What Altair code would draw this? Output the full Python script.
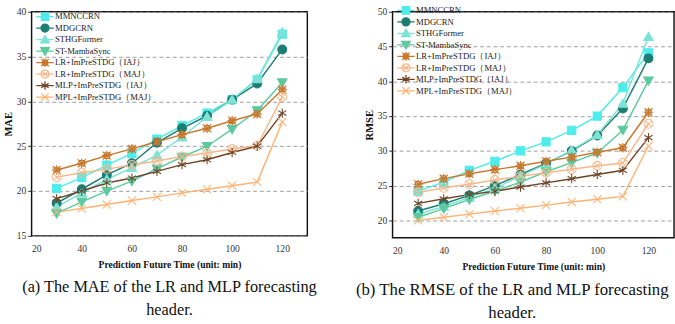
import altair as alt
import pandas as pd

# Forecast horizons (minutes)
minutes = [30, 40, 50, 60, 70, 80, 90, 100, 110, 120]

series_names = [
    "MMNCCRN",
    "MDGCRN",
    "STHGFormer",
    "ST-MambaSync",
    "LR+ImPreSTDG（IAJ）",
    "LR+ImPreSTDG（MAJ）",
    "MLP+ImPreSTDG（IAJ）",
    "MPL+ImPreSTDG（MAJ）",
]

# MAE per model
mae_mmnccrn = [20.3, 21.5, 22.9, 24.2, 25.8, 27.3, 28.7, 30.2, 32.4, 37.5]
mae_mdgcrn = [18.65, 20.2, 21.8, 23.1, 25.4, 27.0, 28.4, 30.2, 32.0, 35.8]
mae_sthgformer = [18.2, 19.8, 21.3, 22.6, 24.0, 26.0, 28.3, 30.2, 32.5, 37.7]
mae_stmambasync = [17.5, 18.8, 20.0, 21.1, 22.5, 23.8, 25.0, 26.9, 29.0, 32.1]
mae_lr_iaj = [22.35, 23.1, 23.95, 24.7, 25.5, 26.3, 27.0, 27.85, 28.6, 31.3]
mae_lr_maj = [21.55, 22.05, 22.45, 22.9, 23.35, 23.85, 24.25, 24.7, 25.05, 30.5]
mae_mlp_iaj = [19.15, 20.0, 20.9, 21.45, 22.2, 22.95, 23.5, 24.3, 25.0, 28.7]
mae_mpl_maj = [17.65, 18.05, 18.5, 18.95, 19.35, 19.8, 20.2, 20.6, 21.0, 27.7]

# RMSE per model
rmse_mmnccrn = [24.2, 25.5, 27.2, 28.5, 30.0, 31.3, 32.95, 35.0, 39.1, 44.1]
rmse_mdgcrn = [21.35, 22.4, 23.6, 25.0, 26.6, 28.2, 30.0, 32.2, 36.1, 43.3]
rmse_sthgformer = [20.9, 22.0, 23.3, 24.6, 26.4, 28.1, 30.1, 32.3, 36.8, 46.4]
rmse_stmambasync = [20.45, 21.7, 23.0, 24.2, 25.5, 27.0, 28.3, 29.7, 33.0, 40.1]
rmse_lr_iaj = [25.2, 26.0, 26.7, 27.3, 27.85, 28.5, 29.1, 29.8, 30.45, 35.55]
rmse_lr_maj = [24.0, 24.7, 25.2, 25.8, 26.35, 26.85, 27.35, 27.85, 28.25, 33.9]
rmse_mlp_iaj = [22.45, 23.1, 23.7, 24.2, 24.8, 25.4, 26.0, 26.6, 27.2, 31.9]
rmse_mpl_maj = [20.0, 20.45, 20.9, 21.35, 21.75, 22.2, 22.65, 23.05, 23.45, 30.7]

line_colors = ["#4eecea", "#1d7d74", "#7ee2d4", "#5cc99f",
               "#c8782c", "#f7b88a", "#6e4526", "#ffb374"]
marker_fills = ["#4eecea", "#1d7d74", "#7ee2d4", "#5cc99f",
                "transparent", "transparent", "transparent", "transparent"]

# Marker outlines in unit coordinates (Vega scales custom paths by the symbol size)
SQUARE = "M-1.1,-1.1H1.1V1.1H-1.1Z"
CIRCLE = "M-1.2,0A1.2,1.2 0 1,1 1.2,0A1.2,1.2 0 1,1 -1.2,0Z"
TRI_UP = "M0,-1.25L1.3,1L-1.3,1Z"
TRI_DOWN = "M0,1.25L1.3,-1L-1.3,-1Z"
STAR_BOX = "M-1.1,-1.1L1.1,1.1M-1.1,1.1L1.1,-1.1M0,-1.3L0,1.3M-1.3,0L1.3,0M-0.75,-0.75H0.75V0.75H-0.75Z"
CIRCLE_X = CIRCLE + "M-0.85,-0.85L0.85,0.85M-0.85,0.85L0.85,-0.85"
ASTERISK = "M-1.1,-0.65L1.1,0.65M-1.1,0.65L1.1,-0.65M0,-1.25L0,1.25"
CROSS_X = "M-1.1,-1.1L1.1,1.1M-1.1,1.1L1.1,-1.1"
marker_shapes = [SQUARE, CIRCLE, TRI_UP, TRI_DOWN, STAR_BOX, CIRCLE_X, ASTERISK, CROSS_X]

# Legend keys: a short line segment running through each marker
KEY_LINE = "M-2.6,0L2.6,0"
key_shapes = [KEY_LINE + s for s in marker_shapes]

SERIF = "Liberation Serif"


def long_table(columns):
    rows = []
    for name, values in zip(series_names, columns):
        for m, v in zip(minutes, values):
            rows.append({"minute": m, "value": v, "series": name, "key": name})
    return pd.DataFrame(rows)


def panel(df, y_title, y_domain, y_ticks, width, height, caption, caption_size,
          legend_y, row_pad, caption_dx):
    x_enc = alt.X(
        "minute:Q",
        scale=alt.Scale(domain=[20, 130], nice=False),
        axis=alt.Axis(
            values=[20, 40, 60, 80, 100, 120],
            title="Prediction Future Time (unit: min)",
            grid=False, ticks=False, domain=False,
            labelFont=SERIF, labelFontSize=10, labelColor="#333",
            labelPadding=8,
            titleFont=SERIF, titleFontSize=10, titleFontWeight="bold",
            titleColor="#111", titlePadding=7,
        ),
    )
    y_enc = alt.Y(
        "value:Q",
        scale=alt.Scale(domain=y_domain, nice=False, zero=False),
        axis=alt.Axis(
            values=y_ticks, title=y_title,
            grid=True, gridDash=[4, 3], gridColor="#9a9a9a", gridWidth=1,
            ticks=True, tickSize=4, tickColor="#222", tickWidth=1,
            domain=False,
            labelFont=SERIF, labelFontSize=10, labelColor="#333", labelPadding=2,
            titleFont=SERIF, titleFontSize=11, titleFontWeight="bold",
            titleColor="#111", titlePadding=3,
        ),
    )

    key_legend = alt.Legend(
        orient="none", legendX=9.5, legendY=legend_y, title=None,
        symbolSize=49, symbolStrokeWidth=1.3, symbolOpacity=1,
        labelFont=SERIF, labelFontSize=9, labelColor="#222", labelOffset=6,
        labelLimit=0, rowPadding=row_pad, padding=0, gridAlign="all",
    )

    lines = alt.Chart(df).mark_line(strokeWidth=1.5).encode(
        x=x_enc, y=y_enc,
        color=alt.Color("series:N", scale=alt.Scale(domain=series_names, range=line_colors),
                        legend=None),
    )
    points = alt.Chart(df).mark_point(filled=False, opacity=1, size=60, strokeWidth=1.1).encode(
        x=x_enc, y=y_enc,
        shape=alt.Shape("series:N", scale=alt.Scale(domain=series_names, range=marker_shapes),
                        legend=None),
        stroke=alt.Stroke("series:N", scale=alt.Scale(domain=series_names, range=line_colors),
                          legend=None),
        fill=alt.Fill("series:N", scale=alt.Scale(domain=series_names, range=marker_fills),
                      legend=None),
    )
    # Invisible layer that only carries the legend (line-through-marker keys)
    keys = alt.Chart(df).mark_point(filled=False, opacity=0, size=1).encode(
        x=x_enc, y=y_enc,
        shape=alt.Shape("key:N", scale=alt.Scale(domain=series_names, range=key_shapes),
                        legend=key_legend),
        stroke=alt.Stroke("key:N", scale=alt.Scale(domain=series_names, range=line_colors),
                          legend=key_legend),
        fill=alt.Fill("key:N", scale=alt.Scale(domain=series_names, range=marker_fills),
                      legend=key_legend),
    )
    return alt.layer(lines, points, keys).resolve_scale(
        shape="independent", stroke="independent", fill="independent"
    ).properties(
        width=width, height=height,
        title=alt.TitleParams(
            text=caption, orient="bottom", anchor="middle", frame="group",
            font=SERIF, fontSize=caption_size, fontWeight="normal", color="#111",
            lineHeight=24, offset=11, dx=caption_dx,
        ),
    )


mae_df = long_table([mae_mmnccrn, mae_mdgcrn, mae_sthgformer, mae_stmambasync,
                     mae_lr_iaj, mae_lr_maj, mae_mlp_iaj, mae_mpl_maj])
rmse_df = long_table([rmse_mmnccrn, rmse_mdgcrn, rmse_sthgformer, rmse_stmambasync,
                      rmse_lr_iaj, rmse_lr_maj, rmse_mlp_iaj, rmse_mpl_maj])

left = panel(mae_df, "MAE", [15, 40], [15, 20, 25, 30, 35, 40], 288, 234,
             ["(a) The MAE of the LR and MLP forecasting", "header."], 17,
             0.5, -7.3, 0)
right = panel(rmse_df, "RMSE", [17.5, 50], [20, 25, 30, 35, 40, 45, 50], 294, 236,
              ["(b) The RMSE of the LR and MLP forecasting", "header."], 17.5,
              -6, -6.9, -22)

chart = alt.hconcat(left, right, spacing=37).resolve_scale(
    color="independent", shape="independent", stroke="independent", fill="independent"
).resolve_legend(
    shape="independent", stroke="independent", fill="independent"
).properties(
    padding={"left": 2, "top": -2, "right": 0, "bottom": 0},
    background="white",
).configure_view(
    stroke="#111", strokeWidth=1.5
)

chart.save("out.html", embed_options={"renderer": "svg", "actions": False})
